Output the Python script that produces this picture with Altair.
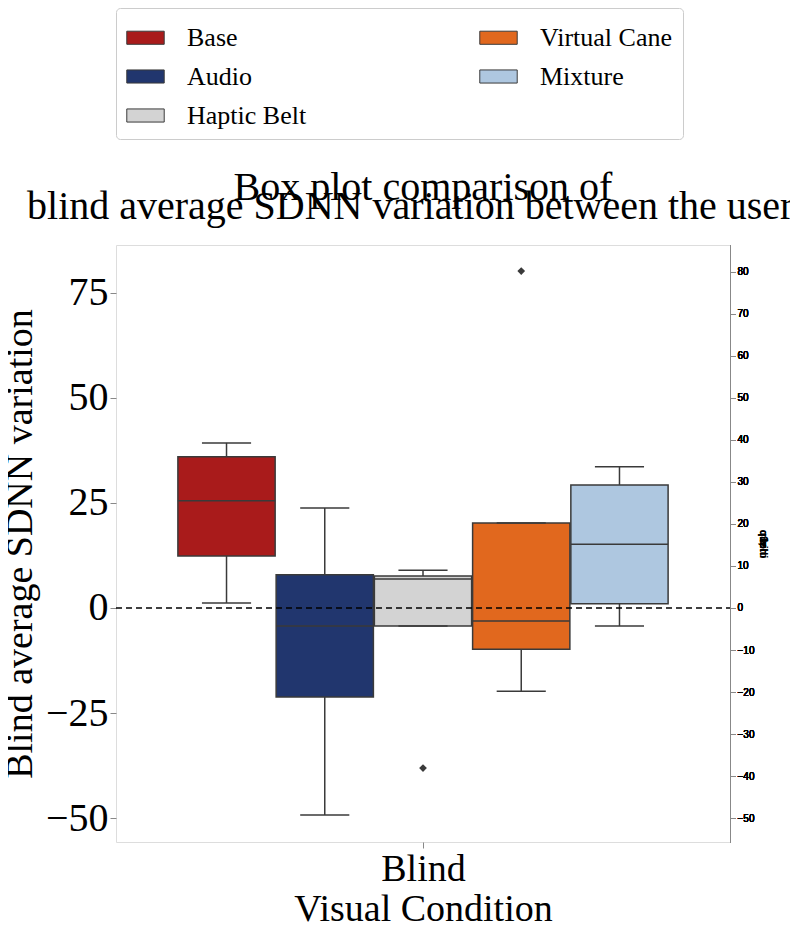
import altair as alt
import pandas as pd

groups = ["Base", "Audio", "Haptic Belt", "Virtual Cane", "Mixture"]
colors = ["#a91b1b", "#21366e", "#d3d3d3", "#e1681e", "#aec7e0"]
q1 = [12.4, -21.2, -4.3, -9.8, 1.0]
med = [25.5, -4.3, 6.9, -3.1, 15.2]
q3 = [36.0, 7.9, 7.6, 20.2, 29.3]
wlo = [1.2, -49.3, -4.3, -19.8, -4.3]
whi = [39.3, 23.8, 9.0, 20.2, 33.6]
out_group = ["Haptic Belt", "Virtual Cane"]
out_val = [-38.1, 80.2]
title_lines = ["Box plot comparison of", "blind average SDNN variation between the users."]

bw = 0.16
centers = [0.5 + (i - 2) * bw for i in range(len(groups))]
df = pd.DataFrame({"g": groups, "q1": q1, "med": med, "q3": q3, "lo": wlo, "hi": whi,
                   "c": centers})
df["x0"] = df.c - bw / 2 * 0.99
df["x1"] = df.c + bw / 2 * 0.99
df["cx0"] = df.c - bw / 4
df["cx1"] = df.c + bw / 4
od = pd.DataFrame({"g": out_group, "v": out_val})
od["c"] = [centers[groups.index(g)] for g in out_group]

font = "Liberation Serif"
xs = alt.Scale(domain=[0, 1])
ys = alt.Scale(domain=[-55.7, 86.4], nice=False, zero=False)
cscale = alt.Scale(domain=groups, range=colors)

X = alt.X("x0:Q", scale=xs, title="Visual Condition",
          axis=alt.Axis(values=[0.5], labelExpr="'Blind'", grid=False, labelFontSize=38,
                        titleFontSize=38, labelFont=font, titleFont=font, tickSize=6,
                        labelColor="black", titleColor="black", titleFontWeight="normal",
                        domain=False, titlePadding=2))
Y = alt.Y("q1:Q", scale=ys, title="Blind average SDNN variation",
          axis=alt.Axis(values=[-50, -25, 0, 25, 50, 75], labelExpr="replace(datum.label, '-', '−')",
                        grid=False, labelFontSize=40, titleFontSize=38, labelFont=font, titleFont=font,
                        labelColor="black", titleColor="black", titleFontWeight="normal", tickSize=6,
                        domain=False, titlePadding=6))

boxes = alt.Chart(df).mark_bar(stroke="#3a3a3a", strokeWidth=1.5).encode(
    x=X, x2="x1:Q", y=Y, y2="q3:Q",
    color=alt.Color("g:N", scale=cscale, title=None,
                    legend=alt.Legend(orient="none", legendX=0, legendY=-237, columns=2,
                                      columnPadding=170, rowPadding=6, padding=10,
                                      strokeColor="#cccccc", cornerRadius=4,
                                      labelFont=font, labelFontSize=26, labelColor="black",
                                      symbolType="M-1,-0.35H1V0.35H-1Z", symbolSize=1400,
                                      symbolStrokeColor="#3a3a3a", symbolStrokeWidth=1, labelOffset=22)))
base = alt.Chart(df)
rc = "#3a3a3a"
w_up = base.mark_rule(color=rc, strokeWidth=1.5).encode(x=alt.X("c:Q", scale=xs), y=alt.Y("q3:Q", scale=ys), y2="hi:Q")
w_dn = base.mark_rule(color=rc, strokeWidth=1.5).encode(x=alt.X("c:Q", scale=xs), y=alt.Y("q1:Q", scale=ys), y2="lo:Q")
cap_u = base.mark_rule(color=rc, strokeWidth=1.5).encode(x=alt.X("cx0:Q", scale=xs), x2="cx1:Q", y=alt.Y("hi:Q", scale=ys))
cap_d = base.mark_rule(color=rc, strokeWidth=1.5).encode(x=alt.X("cx0:Q", scale=xs), x2="cx1:Q", y=alt.Y("lo:Q", scale=ys))
medl = base.mark_rule(color=rc, strokeWidth=1.5).encode(x=alt.X("x0:Q", scale=xs), x2="x1:Q", y=alt.Y("med:Q", scale=ys))
outs = alt.Chart(od).mark_point(shape="diamond", filled=True, color=rc, size=60, opacity=1).encode(
    x=alt.X("c:Q", scale=xs), y=alt.Y("v:Q", scale=ys))
zero = alt.Chart(pd.DataFrame({"z": [0]})).mark_rule(color="black", strokeDash=[6, 4], strokeWidth=1.5).encode(
    y=alt.Y("z:Q", scale=ys), x=alt.value(0), x2=alt.value(614))
tdf = pd.DataFrame({"t": title_lines, "i": [0, 1]})
title = alt.Chart(tdf).mark_text(font=font, fontSize=40, color="black", align="center", baseline="alphabetic").encode(
    text="t:N", x=alt.value(307), y=alt.Y("i:O", scale=alt.Scale(range=[-55, -16]), axis=None))

chart = alt.layer(boxes, w_up, w_dn, cap_u, cap_d, medl, outs, zero, title).resolve_scale(y="independent").properties(
    width=614, height=597,
    autosize=alt.AutoSizeParams(type="none"),
    padding={"left": 108, "top": 237, "right": 60, "bottom": 80},
).configure_view(stroke="black", strokeWidth=1).configure(background="white")

chart.save("out.html", embed_options={"renderer": "svg", "actions": False})
